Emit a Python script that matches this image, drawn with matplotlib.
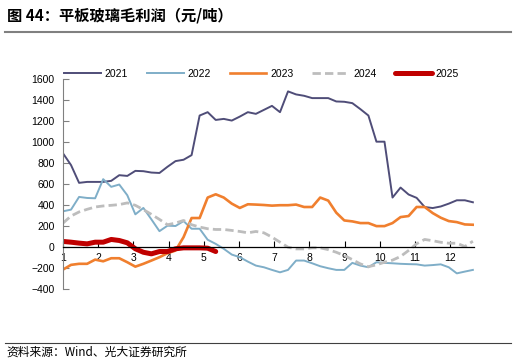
import numpy as np
import matplotlib
matplotlib.use("Agg")
from matplotlib import pyplot as plt

plt.rcParams['font.family'] = ['Liberation Sans', 'Noto Sans CJK SC', 'DejaVu Sans']

# weekly gross profit, yuan/ton
y2021 = [892, 780, 611, 620, 620, 620, 630, 684, 677, 725, 722, 709, 705, 764, 818, 831, 875,
         1252, 1284, 1210, 1220, 1204, 1242, 1284, 1268, 1306, 1344, 1284, 1482, 1453, 1440,
         1418, 1418, 1418, 1386, 1383, 1370, 1313, 1252, 1003, 1003, 471, 566, 500, 468, 381,
         371, 386, 413, 445, 445, 426]
y2022 = [340, 356, 477, 467, 464, 646, 573, 595, 493, 311, 372, 263, 151, 203, 200, 247, 174,
         174, 69, 30, -17, -72, -97, -139, -177, -193, -218, -241, -218, -129, -129, -155, -183,
         -202, -218, -218, -151, -177, -193, -145, -151, -155, -160, -163, -165, -177, -172,
         -165, -193, -251, -234, -218]
y2023 = [-215, -170, -160, -160, -120, -136, -107, -107, -145, -187, -160, -129, -97, -59, -34,
         94, 276, 276, 471, 502, 471, 413, 372, 407, 404, 400, 394, 398, 398, 404, 381, 381, 471,
         442, 327, 253, 244, 228, 228, 199, 199, 228, 285, 295, 381, 381, 323, 279, 247, 237,
         215, 212]
y2024 = [228, 295, 334, 359, 381, 391, 397, 404, 420, 397, 356, 311, 263, 212, 228, 253, 212,
         190, 174, 167, 167, 158, 148, 135, 148, 135, 94, 46, -2, -18, -18, -8, -8, -25, -50,
         -81, -120, -161, -187, -170, -145, -125, -90, -33, 31, 72, 60, 45, 36, 36, 5, 55]
y2025 = [53, 46, 37, 30, 46, 46, 72, 62, 40, -17, -50, -65, -43, -43, -17, -8, -8, -8, -11, -43]

months = list(range(1, 13))
yticks = list(range(-400, 1601, 200))

step = 0.2284  # months per week on the axis


def xs(v):
    return 1 + np.arange(len(v)) * step


fig = plt.figure(figsize=(5.16, 3.64), dpi=100)

fig.text(0.014, 0.958, "图 44：平板玻璃毛利润（元/吨）", fontsize=11, fontweight='bold',
         family=['Noto Sans CJK SC', 'DejaVu Sans'], va='center', ha='left')
fig.add_artist(plt.Line2D([0.01, 0.99], [0.912, 0.912], color='#808080', lw=1.5))
fig.add_artist(plt.Line2D([0.01, 0.99], [0.058, 0.058], color='#404040', lw=0.8))
fig.text(0.012, 0.032, "资料来源：Wind、光大证券研究所", fontsize=8.5,
         family=['Noto Sans CJK SC', 'DejaVu Sans'], va='center', ha='left')

ax = fig.add_axes([0.1221, 0.206, 0.7965, 0.577])
ax.plot(xs(y2021), y2021, color='#4F4D78', lw=1.4, label='2021')
ax.plot(xs(y2022), y2022, color='#7FAEC8', lw=1.4, label='2022')
ax.plot(xs(y2023), y2023, color='#F07F2E', lw=1.9, label='2023')
ax.plot(xs(y2024), y2024, color='#BDBDBD', lw=2.0, ls=(0, (3, 1.5)), label='2024')
ax.plot(xs(y2025), y2025, color='#C00000', lw=3.6, solid_capstyle='round', label='2025')

ax.set_xlim(1, 12.68)
ax.set_ylim(-400, 1600)
ax.set_yticks(yticks)
ax.set_xticks(months)
ax.set_xticklabels([str(m) for m in months])

for s in ['top', 'right']:
    ax.spines[s].set_visible(False)
ax.spines['left'].set_color('#808080')
ax.spines['bottom'].set_position(('data', 0))
ax.spines['bottom'].set_color('black')
ax.spines['bottom'].set_linewidth(0.9)
ax.tick_params(axis='y', direction='in', length=4, color='#808080', labelsize=7.5, pad=6)
ax.tick_params(axis='x', direction='in', length=4, labelsize=7.5, pad=4)

ax.legend(loc='center', bbox_to_anchor=(0.507, 0.797), bbox_transform=fig.transFigure,
          ncol=5, frameon=False, fontsize=7.5, handlelength=3.5, columnspacing=1.8,
          handletextpad=0.4)

fig.savefig("out.png", dpi=100)
